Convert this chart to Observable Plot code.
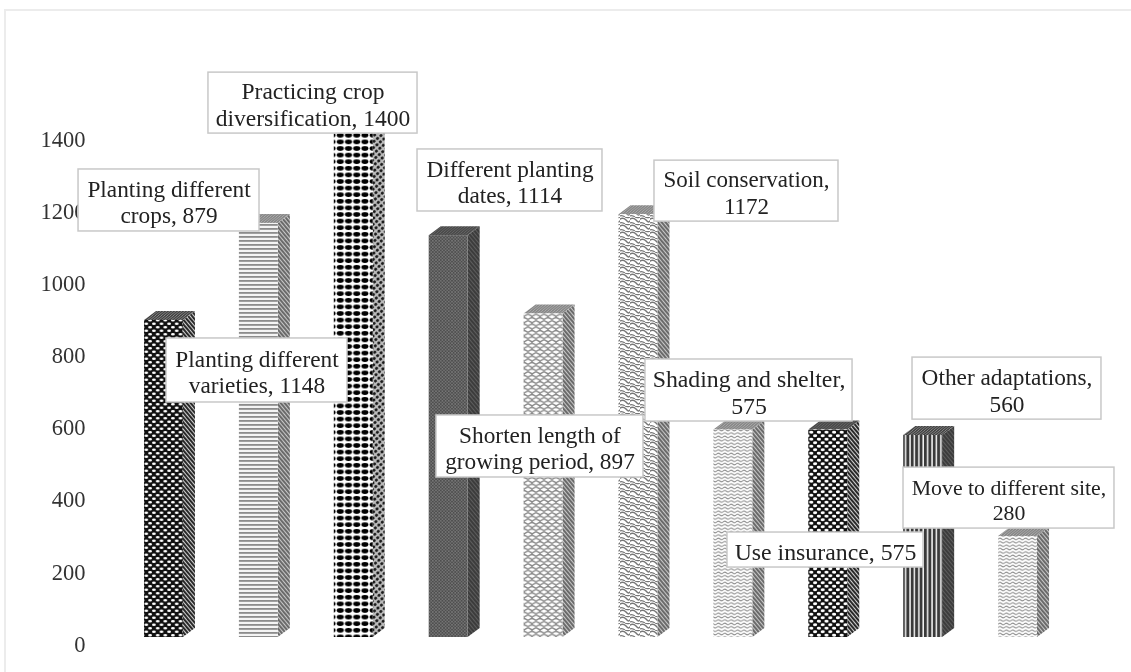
<!DOCTYPE html>
<html>
<head>
<meta charset="utf-8">
<script src="https://cdn.jsdelivr.net/npm/d3@7"></script>
<script src="https://cdn.jsdelivr.net/npm/@observablehq/plot@0.6"></script>
<style>
html,body{margin:0;padding:0;background:#fff;}
#chart{position:relative;width:1131px;height:672px;overflow:hidden;}
#chart svg{display:block;filter:blur(0.5px);}
#edge{position:absolute;left:4px;top:9px;width:1127px;height:663px;border-left:2px solid #ececec;border-top:2px solid #ececec;box-sizing:border-box;}
</style>
</head>
<body>
<div id="chart"><div id="edge"></div></div>
<script>
// Data
const categories = ["Planting different crops","Planting different varieties","Practicing crop diversification","Different planting dates","Shorten length of growing period","Soil conservation","Shading and shelter","Use insurance","Other adaptations","Move to different site"];
const values = [879,1148,1400,1114,897,1172,575,575,560,280];
const yTicks = [0,200,400,600,800,1000,1200,1400];
const labelLines = [
 "Planting different\ncrops, 879","Planting different\nvarieties, 1148","Practicing crop\ndiversification, 1400",
 "Different planting\ndates, 1114","Shorten length of\ngrowing period, 897","Soil conservation,\n1172",
 "Shading and shelter,\n575","Use insurance, 575","Other adaptations,\n560","Move to different site,\n280"];

// Label box placement, in chart units (category slot, value)
const boxX1 = [-0.40,0.527,0.969,3.172,3.372,5.669,5.574,6.438,8.388,8.293];
const boxX2 = [1.507,2.434,3.172,5.121,5.553,7.608,7.756,8.504,10.379,10.516];
const boxY1 = [1125.6,651.5,1397,1181,443.6,1153,598.8,194,604,302];
const boxY2 = [1297.5,829,1566,1353,615.5,1322,770.7,291,776,471];
const labelSizes = [23.3,23.3,23.5,23.3,23.3,23,23.8,23.8,23.3,21.8];

// 3D bar proportions, in chart units
const barL = 0.295, barR = 0.705, depthX = 0.127, depthY = 25;

const patternIds = ["p1","p2","p3","p4","p5","p6","p7","p8","p9","p7"];
const sideIds = ["s1","s2","s3","s4","s2","s2","s2","s1","s4","s2"];
const topIds = ["t1","t2","t3","t4","t2","t2","t2","t4","t1","t2"];

const fronts = values.map((v,i)=>({i,v,x1:i+barL,x2:i+barR,fill:`url(#${patternIds[i]})`}));
const sides = values.flatMap((v,i)=>[
  {i,x:i+barR,y1:0,y2:v,fill:`url(#${sideIds[i]})`},
  {i,x:i+barR+depthX,y1:depthY,y2:v+depthY,fill:`url(#${sideIds[i]})`}
]);
const tops = values.flatMap((v,i)=>{
  const f=`url(#${topIds[i]})`;
  return [
   {i,x:i+barL,y1:v,y2:v,fill:f},
   {i,x:i+barL+depthX,y1:v,y2:v+depthY,fill:f},
   {i,x:i+barR,y1:v,y2:v+depthY,fill:f},
   {i,x:i+barR+depthX,y1:v+depthY,y2:v+depthY,fill:f}
  ];
});
const boxes = labelLines.map((text,i)=>({text,x1:boxX1[i],x2:boxX2[i],y1:boxY1[i],y2:boxY2[i],size:labelSizes[i],
  cx:(boxX1[i]+boxX2[i])/2,cy:(boxY1[i]+boxY2[i])/2}));

const serif = "'Liberation Serif','Times New Roman',serif";

const svg = Plot.plot({
  width:1131,height:672,marginLeft:87,marginRight:0,marginTop:0,marginBottom:0,
  style:{background:"transparent",fontFamily:serif,fontSize:"22.5px",overflow:"visible"},
  x:{domain:[0,10],range:[116,1065],axis:null},
  y:{domain:[0,1400],range:[637,132]},
  color:{type:"identity"},
  marks:[
    Plot.axisY({ticks:yTicks,tickFormat:d3.format("d"),tickSize:0,tickPadding:2,dy:7,label:null,fill:"#333",fontSize:22.5}),
    Plot.areaY(sides,{x:"x",y1:"y1",y2:"y2",z:"i",fill:"fill"}),
    Plot.areaY(tops,{x:"x",y1:"y1",y2:"y2",z:"i",fill:"fill"}),
    Plot.rect(fronts,{x1:"x1",x2:"x2",y1:0,y2:"v",fill:"fill"}),
    Plot.rect(boxes,{x1:"x1",x2:"x2",y1:"y1",y2:"y2",fill:"#fff",stroke:"#c8c8c8",strokeWidth:1.5}),
    Plot.text(boxes,{x:"cx",y:"cy",text:"text",fontSize:"size",lineHeight:1.15,dy:1,fill:"#222",fontFamily:serif})
  ]
});

// Hatch patterns
const defs = d3.select(svg).insert("defs",":first-child");
function pat(id,w,h,bg,draw,tf){
  const p = defs.append("pattern").attr("id",id).attr("patternUnits","userSpaceOnUse").attr("width",w).attr("height",h);
  if(tf) p.attr("patternTransform",tf);
  p.append("rect").attr("width",w).attr("height",h).attr("fill",bg);
  draw(p);
}
const ell=(p,cx,cy,rx,ry,f)=>p.append("ellipse").attr("cx",cx).attr("cy",cy).attr("rx",rx).attr("ry",ry).attr("fill",f);
const line=(p,d,s,w)=>p.append("path").attr("d",d).attr("fill","none").attr("stroke",s).attr("stroke-width",w);

pat("p1",7.6,7,"#111",p=>{ell(p,1.9,1.75,1.9,1.3,"#fff");ell(p,5.7,5.25,1.9,1.3,"#fff");});
pat("p2",4,4,"#f4f4f4",p=>{p.append("rect").attr("y",0).attr("width",4).attr("height",1.8).attr("fill","#8c8c8c");});
pat("p3",8.2,6.6,"#fff",p=>{ell(p,4.1,3.3,3.5,2.3,"#000");});
pat("p4",3.2,3.2,"#4e4e4e",p=>{ell(p,0.8,0.8,0.65,0.55,"#aaa");ell(p,2.4,2.4,0.65,0.55,"#999");});
pat("p5",8,6.4,"#fff",p=>{line(p,"M0 0.6L4 2.6L4 3.8L8 5.8M8 0.6L4 2.6M4 3.8L0 5.8","#888",1.4);});
pat("p6",10,7,"#fff",p=>{line(p,"M-1 3C2 0 4 1 6 3S8 6 11 3","#777",1.5);line(p,"M-1 6.5C1 5 3 5.5 5 7","#777",1.2);line(p,"M5 0C7 1.2 9 0.8 11 -0.5","#777",1.2);});
pat("p7",6.4,3.4,"#fff",p=>{line(p,"M0 1.7Q1.6 0.2 3.2 1.7T6.4 1.7","#8c8c8c",1);});
pat("p8",7.6,7,"#111",p=>{ell(p,1.9,1.75,2.1,1.4,"#fff");ell(p,5.7,5.25,2.1,1.4,"#fff");});
pat("p9",4.4,4,"#f4f4f4",p=>{p.append("rect").attr("width",2.9).attr("height",4).attr("fill","#3a3a3a");});

pat("s1",3,3,"#d0d0d0",p=>{p.append("rect").attr("width",1.9).attr("height",3).attr("fill","#222");},"rotate(-40)");
pat("s2",3,3,"#c8c8c8",p=>{p.append("rect").attr("width",1.9).attr("height",3).attr("fill","#666");},"rotate(-40)");
pat("s3",4.5,4.5,"#bbb",p=>{ell(p,2.2,2.2,1.6,1.5,"#1a1a1a");},"rotate(-40)");
pat("s4",3,3,"#3c3c3c",p=>{p.append("rect").attr("width",1).attr("height",3).attr("fill","#5e5e5e");},"rotate(-40)");
pat("t1",3,3,"#444",p=>{p.append("rect").attr("width",1).attr("height",3).attr("fill","#888");},"skewX(-50)");
pat("t2",3,3,"#888",p=>{p.append("rect").attr("width",1).attr("height",3).attr("fill","#aaa");},"skewX(-50)");
pat("t3",3,3,"#444",p=>{p.append("rect").attr("width",1).attr("height",3).attr("fill","#888");},"skewX(-50)");
pat("t4",3,3,"#4a4a4a",p=>{p.append("rect").attr("width",1).attr("height",3).attr("fill","#666");},"skewX(-50)");

document.getElementById("chart").appendChild(svg);
</script>
</body>
</html>
